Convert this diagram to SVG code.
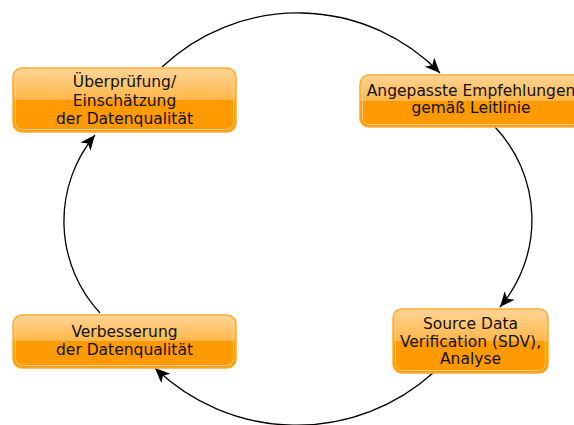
<svg xmlns="http://www.w3.org/2000/svg" width="574" height="425" viewBox="0 0 574 425">
  <defs>
    <linearGradient id="boxFill" x1="0" y1="0" x2="0" y2="1">
      <stop offset="0" stop-color="#ffd597"/>
      <stop offset="0.5" stop-color="#ffb648"/>
      <stop offset="0.5" stop-color="#ff9a00"/>
      <stop offset="1" stop-color="#ff9900"/>
    </linearGradient>
    <marker id="arrow" viewBox="-16 -8 17 16" refX="0" refY="0" markerWidth="17" markerHeight="16" markerUnits="userSpaceOnUse" orient="auto">
      <path d="M0,0 L-15,-6.5 L-11,0 L-15,6.5 Z" fill="#000"/>
    </marker>
    <style>
      .box { fill: url(#boxFill); stroke: #ffaa33; stroke-width: 1.5; }
      .inner { fill: none; stroke: #ffd08a; stroke-width: 1; }
      .label { font-family: "DejaVu Sans", sans-serif; font-size: 15.5px; fill: #111; text-anchor: middle; }
      .edge { fill: none; stroke: #000; stroke-width: 1.3; marker-end: url(#arrow); }
    </style>
  </defs>
  <rect width="574" height="425" fill="#fff"/>

  <g id="connectors">
    <path class="edge" d="M162,67 A198,198 0 0 1 440,73"/>
    <path class="edge" d="M495,127 A135,135 0 0 1 500,307"/>
    <path class="edge" d="M433,373 A204,204 0 0 1 155,368"/>
    <path class="edge" d="M100,313 A135,135 0 0 1 95,135"/>
  </g>

  <g id="node-ueberpruefung">
    <rect class="box" x="13" y="68" width="223" height="64" rx="9"/>
    <rect class="inner" x="15.5" y="70.5" width="218" height="59" rx="7"/>
    <text class="label" x="124.5" y="87">Überprüfung/</text>
    <text class="label" x="124.5" y="106">Einschätzung</text>
    <text class="label" x="124.5" y="124">der Datenqualität</text>
  </g>

  <g id="node-empfehlungen">
    <rect class="box" x="360" y="75" width="222" height="52" rx="9"/>
    <rect class="inner" x="362.5" y="77.5" width="217" height="47" rx="7"/>
    <text class="label" x="471" y="96">Angepasste Empfehlungen</text>
    <text class="label" x="471" y="113">gemäß Leitlinie</text>
  </g>

  <g id="node-sdv">
    <rect class="box" x="393" y="309" width="155" height="64" rx="9"/>
    <rect class="inner" x="395.5" y="311.5" width="150" height="59" rx="7"/>
    <text class="label" x="470.5" y="329">Source Data</text>
    <text class="label" x="470.5" y="347">Verification (SDV),</text>
    <text class="label" x="470.5" y="364">Analyse</text>
  </g>

  <g id="node-verbesserung">
    <rect class="box" x="13" y="315" width="223" height="53" rx="9"/>
    <rect class="inner" x="15.5" y="317.5" width="218" height="48" rx="7"/>
    <text class="label" x="124.5" y="337">Verbesserung</text>
    <text class="label" x="124.5" y="355">der Datenqualität</text>
  </g>
</svg>
